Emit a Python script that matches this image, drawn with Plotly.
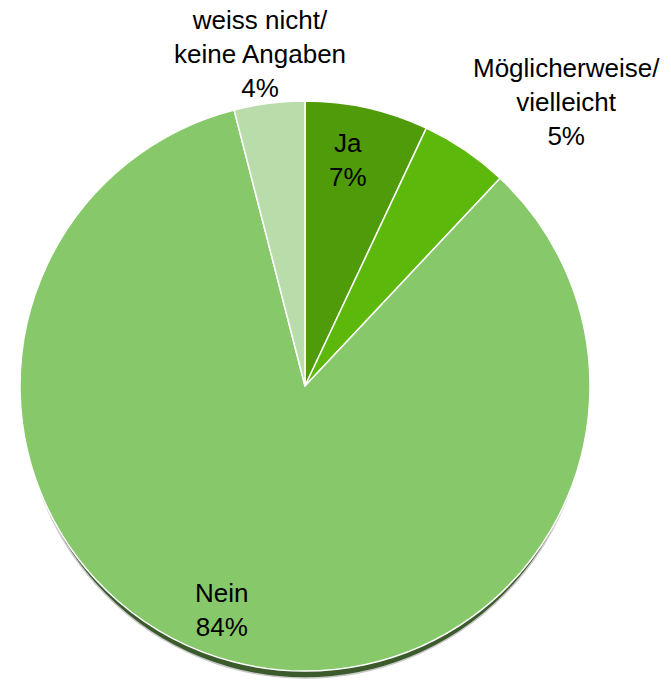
import plotly.graph_objects as go

labels = ["Ja", "Möglicherweise/<br>vielleicht", "Nein", "weiss nicht/<br>keine Angaben"]
values = [7, 5, 84, 4]
colors = ["#4f9b0a", "#5cb80a", "#87c96a", "#b8ddaa"]
pct_text = ["7%", "5%", "84%", "4%"]

W, H = 671, 682
cx, cy, r = 305, 386, 285

def px(x):
    return x / W

def py(y):
    return 1 - y / H

fig = go.Figure()
fig.add_trace(go.Pie(
    labels=labels, values=values, sort=False, direction="clockwise", rotation=0,
    marker=dict(colors=colors, line=dict(color="white", width=1.5)),
    textinfo="none", hoverinfo="label+percent", showlegend=False,
    domain=dict(x=[px(cx - r), px(cx + r)], y=[py(cy + r), py(cy - r)]),
))

# shadow under the pie
fig.add_shape(type="circle", xref="paper", yref="paper", layer="below",
              x0=px(cx - r + 3), x1=px(cx + r - 3), y0=py(cy + r + 7), y1=py(cy - r + 7),
              fillcolor="#3c5b2c", line=dict(color="#c8c8c8", width=1.5))

label_pos = [(348, 160), (566, 102), (222, 610), (260, 54)]
for lab, pct, (x, y) in zip(labels, pct_text, label_pos):
    fig.add_annotation(x=px(x), y=py(y), xref="paper", yref="paper",
                       text=f"{lab}<br>{pct}", showarrow=False,
                       font=dict(family="Liberation Sans, Arial", size=26, color="black"),
                       align="center", xanchor="center", yanchor="middle")

fig.update_layout(width=W, height=H, margin=dict(l=0, r=0, t=0, b=0),
                  paper_bgcolor="white", plot_bgcolor="white")
fig.write_html("out.html", config={"displayModeBar": False},
               post_script="document.body.style.margin='0';")
